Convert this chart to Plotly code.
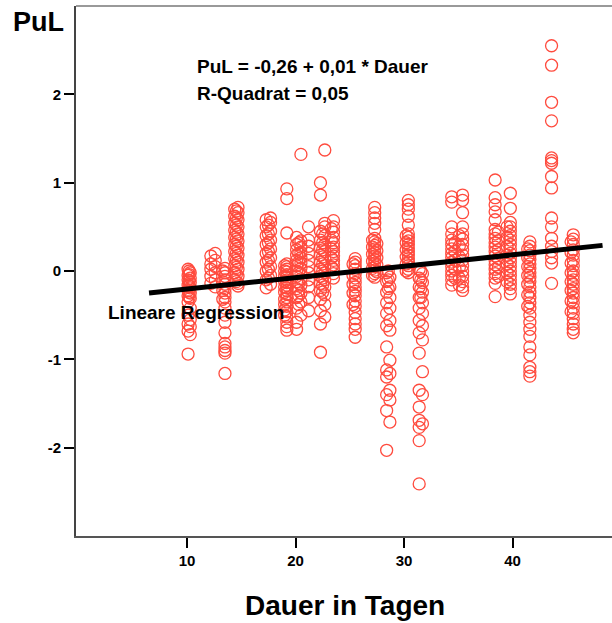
import plotly.graph_objects as go

# ---- data (Dauer in Tagen -> PuL) ----
col_10a = [0.02, -0.05, -0.1, -0.16, -0.22, -0.28, -0.35, -0.5, -0.6, -0.68, -0.94]
col_10b = [-0.02, -0.08, -0.13, -0.19, -0.25, -0.31, -0.42, -0.55, -0.63, -0.72]
col_10c = [0.0, -0.04, -0.11, -0.17, -0.24, -0.3]
col_12a = [0.17, 0.08, 0.02, -0.06, -0.14]
col_12b = [0.2, 0.12, 0.05, -0.02, -0.1, -0.18]
col_13 = [0.03, -0.02, -0.06, -0.1, -0.15, -0.2, -0.25, -0.3, -0.35, -0.42, -0.5,
          -0.58, -0.7, -0.82, -0.86, -0.9, -0.93, -1.16]
col_13b = [0.0, -0.12, -0.22, -0.32]
col_14a = [0.7, 0.62, 0.54, 0.46, 0.38, 0.3, 0.22, 0.14, 0.06, -0.02, -0.1]
col_14b = [0.72, 0.66, 0.58, 0.5, 0.42, 0.34, 0.26, 0.18, 0.1, 0.02, -0.06, -0.14, -0.17]
col_14c = [0.68, 0.6, 0.52, 0.44, 0.36, 0.28, 0.2, 0.12, 0.04, -0.04, -0.12]
col_17a = [0.58, 0.5, 0.4, 0.3, 0.2, 0.1, 0.0, -0.1, -0.19]
col_17b = [0.6, 0.55, 0.45, 0.35, 0.25, 0.15, 0.05, -0.05, -0.15]
col_17c = [0.52, 0.42, 0.32, 0.22, 0.12, 0.02, -0.08]
col_19 = [0.93, 0.82, 0.43, 0.08, 0.05, 0.02, -0.01, -0.04, -0.07, -0.1, -0.13, -0.16,
          -0.19, -0.22, -0.26, -0.3, -0.35, -0.4, -0.46, -0.52, -0.58, -0.63, -0.67]
col_19b = [0.06, 0.0, -0.06, -0.12, -0.18, -0.24, -0.32, -0.38, -0.44, -0.5]
col_20a = [0.38, 0.3, 0.24, 0.18, 0.12, 0.06, 0.0, -0.06, -0.12, -0.2, -0.3, -0.42, -0.58, -0.66]
col_20b = [1.32, 0.34, 0.27, 0.21, 0.15, 0.09, 0.03, -0.03, -0.09, -0.16, -0.25, -0.35, -0.5]
col_20c = [0.32, 0.2, 0.1, -0.02, -0.14, -0.22, -0.28, -0.38]
col_21 = [0.5, 0.35, 0.28, 0.2, 0.12, 0.05, -0.02, -0.1, -0.18, -0.3, -0.45]
col_22a = [1.0, 0.86, 0.45, 0.35, 0.26, 0.18, 0.1, 0.02, -0.06, -0.14, -0.22, -0.32,
           -0.45, -0.6, -0.92]
col_22b = [1.37, 0.54, 0.5, 0.4, 0.3, 0.22, 0.14, 0.06, -0.02, -0.1, -0.18, -0.27,
           -0.38, -0.52]
col_22c = [0.42, 0.32, 0.24, 0.16, 0.08, 0.0, -0.08, -0.16, -0.24]
col_23 = [0.57, 0.5, 0.44, 0.38, 0.32, 0.27, 0.22, 0.17, 0.12, 0.07, 0.02, -0.03, -0.08]
col_23b = [0.48, 0.35, 0.25, 0.15, 0.05]
col_25 = [0.14, 0.1, 0.06, 0.02, -0.03, -0.08, -0.13, -0.18, -0.23, -0.28, -0.34,
          -0.4, -0.47, -0.54, -0.6, -0.66, -0.75]
col_25b = [0.08, -0.05, -0.15, -0.25, -0.38]
col_27 = [0.72, 0.66, 0.6, 0.54, 0.47, 0.37, 0.33, 0.29, 0.25, 0.21, 0.17, 0.13,
          0.09, 0.05, 0.01, -0.03, -0.07]
col_27b = [0.35, 0.27, 0.19, 0.11, 0.03, -0.05]
col_27c = [0.31, 0.23, 0.15, 0.07, -0.01]
col_28a = [-0.02, -0.12, -0.24, -0.36, -0.48, -0.62, -0.86, -1.12, -1.2, -1.4, -1.58, -2.03]
col_28b = [-0.07, -0.18, -0.3, -0.42, -0.56, -0.67, -1.01, -1.16, -1.35, -1.46, -1.71]
col_28c = [0.0, -0.1, -0.2]
col_30 = [0.8, 0.75, 0.7, 0.62, 0.52, 0.42, 0.38, 0.34, 0.3, 0.26, 0.22, 0.18,
          0.14, 0.1, 0.06, 0.02, -0.02]
col_30b = [0.4, 0.32, 0.24, 0.16, 0.08, 0.0]
col_31a = [0.02, -0.08, -0.18, -0.3, -0.42, -0.56, -0.7, -0.93, -1.35, -1.54, -1.69,
           -1.77, -1.92, -2.41]
col_31b = [-0.03, -0.13, -0.24, -0.36, -0.48, -0.62, -0.78, -1.14, -1.4, -1.73]
col_31c = [0.0, -0.1, -0.2, -0.3]
col_34 = [0.84, 0.78, 0.5, 0.42, 0.35, 0.3, 0.25, 0.2, 0.15, 0.1, 0.05, 0.0,
          -0.05, -0.1, -0.16]
col_34b = [0.32, 0.22, 0.12, 0.02, -0.08]
col_35 = [0.86, 0.8, 0.66, 0.5, 0.42, 0.36, 0.3, 0.24, 0.18, 0.12, 0.06, 0.0,
          -0.06, -0.12, -0.18, -0.22]
col_35b = [0.4, 0.28, 0.16, 0.04, -0.08, -0.16]
col_38 = [1.03, 0.83, 0.75, 0.67, 0.58, 0.47, 0.42, 0.37, 0.32, 0.27, 0.22, 0.17,
          0.12, 0.07, 0.02, -0.03, -0.08, -0.14, -0.29]
col_38b = [0.44, 0.34, 0.24, 0.14, 0.04, -0.06]
col_39 = [0.88, 0.71, 0.55, 0.5, 0.45, 0.4, 0.35, 0.3, 0.25, 0.2, 0.15, 0.1, 0.05,
          0.0, -0.05, -0.1, -0.15, -0.2, -0.26]
col_39b = [0.5, 0.38, 0.28, 0.18, 0.08, -0.02, -0.12]
col_41 = [0.33, 0.28, 0.23, 0.18, 0.13, 0.08, 0.03, -0.02, -0.07, -0.12, -0.18,
          -0.24, -0.3, -0.36, -0.42, -0.5, -0.58, -0.66, -0.74, -0.86, -0.95,
          -1.09, -1.14, -1.19]
col_41b = [0.25, 0.15, 0.05, -0.05, -0.15, -0.27, -0.4]
col_43 = [2.55, 2.33, 1.91, 1.7, 1.28, 1.25, 1.22, 1.07, 0.94, 0.6, 0.5, 0.37,
          0.28, 0.22, 0.15, 0.09, -0.14]
col_45 = [0.41, 0.36, 0.3, 0.24, 0.18, 0.12, 0.06, 0.0, -0.05, -0.1, -0.15, -0.2,
          -0.25, -0.3, -0.36, -0.42, -0.48, -0.54, -0.6, -0.66, -0.7]
col_45b = [0.33, 0.21, 0.09, -0.02, -0.12, -0.22, -0.34, -0.46]

dauer_positions = [10.1, 10.3, 10.2, 12.2, 12.6, 13.5, 13.3, 14.4, 14.7, 14.55,
                   17.3, 17.7, 17.5, 19.2, 19.0, 20.1, 20.5, 20.3, 21.2, 22.3, 22.7,
                   22.5, 23.5, 23.3, 25.5, 25.3, 27.3, 27.1, 27.5, 28.4, 28.7, 28.55,
                   30.4, 30.2, 31.4, 31.7, 31.55, 34.4, 34.7, 35.4, 35.1, 38.4, 38.7,
                   39.8, 39.5, 41.6, 41.4, 43.6, 45.6, 45.4]
pul_columns = [col_10a, col_10b, col_10c, col_12a, col_12b, col_13, col_13b, col_14a,
               col_14b, col_14c, col_17a, col_17b, col_17c, col_19, col_19b, col_20a,
               col_20b, col_20c, col_21, col_22a, col_22b, col_22c, col_23, col_23b,
               col_25, col_25b, col_27, col_27b, col_27c, col_28a, col_28b, col_28c,
               col_30, col_30b, col_31a, col_31b, col_31c, col_34, col_34b, col_35,
               col_35b, col_38, col_38b, col_39, col_39b, col_41, col_41b, col_43,
               col_45, col_45b]

# regression line endpoints
reg_x = [6.5, 48.3]
reg_y = [-0.25, 0.29]

x_ticks = [10, 20, 30, 40]
y_ticks = [-2, -1, 0, 1, 2]

equation_text = "PuL = -0,26 + 0,01 * Dauer"
r2_text = "R-Quadrat = 0,05"
line_label = "Lineare Regression"
y_title = "PuL"
x_title = "Dauer in Tagen"

xs, ys = [], []
for xv, col in zip(dauer_positions, pul_columns):
    for yv in col:
        xs.append(xv)
        ys.append(yv)

FONT = "Liberation Sans, Arial, Helvetica, sans-serif"
RED = "#ff4b3e"

fig = go.Figure()
fig.add_trace(go.Scatter(
    x=xs, y=ys, mode="markers",
    marker=dict(symbol="circle-open", size=12, color=RED, line=dict(width=1.3, color=RED)),
    hoverinfo="x+y", showlegend=False))
fig.add_trace(go.Scatter(
    x=reg_x, y=reg_y, mode="lines",
    line=dict(color="black", width=5), showlegend=False))

fig.update_layout(
    width=612, height=623,
    margin=dict(l=76, r=0, t=6, b=87),
    paper_bgcolor="white", plot_bgcolor="white",
    font=dict(family=FONT, color="black"),
    xaxis=dict(range=[-0.23, 49.17], showgrid=False, zeroline=False,
               showline=True, linecolor="#555555", linewidth=2,
               tickmode="array", tickvals=x_ticks, ticktext=[str(t) for t in x_ticks],
               ticks="outside", ticklen=10, tickwidth=2, tickcolor="black",
               tickfont=dict(family=FONT, size=15, color="black", weight="bold")),
    yaxis=dict(range=[-3, 3], showgrid=False, zeroline=False,
               showline=True, linecolor="#444444", linewidth=2,
               tickmode="array", tickvals=y_ticks, ticktext=[str(t) for t in y_ticks],
               ticks="outside", ticklen=10, tickwidth=2, tickcolor="black",
               tickfont=dict(family=FONT, size=15, color="black", weight="bold")),
    shapes=[dict(type="line", xref="paper", yref="paper", x0=0, x1=1, y0=1, y1=1,
                 line=dict(color="#999999", width=2))],
    annotations=[
        dict(text=equation_text, x=10.74, y=2.31, xref="x", yref="y",
             xanchor="left", yanchor="middle", showarrow=False,
             font=dict(family=FONT, size=19, color="black", weight="bold")),
        dict(text=r2_text, x=10.74, y=2.01, xref="x", yref="y",
             xanchor="left", yanchor="middle", showarrow=False,
             font=dict(family=FONT, size=19, color="black", weight="bold")),
        dict(text=line_label, x=2.53, y=-0.47, xref="x", yref="y",
             xanchor="left", yanchor="middle", showarrow=False,
             font=dict(family=FONT, size=19, color="black", weight="bold")),
        dict(text=y_title, x=-0.121, y=0.97, xref="paper", yref="paper",
             xanchor="left", yanchor="middle", showarrow=False,
             font=dict(family=FONT, size=27, color="black", weight="bold")),
        dict(text=x_title, x=0.502, y=-0.132, xref="paper", yref="paper",
             xanchor="center", yanchor="middle", showarrow=False,
             font=dict(family=FONT, size=28, color="black", weight="bold")),
    ],
)

fig.write_html("out.html", config={"displayModeBar": False},
               post_script="document.body.style.margin='0px';")
